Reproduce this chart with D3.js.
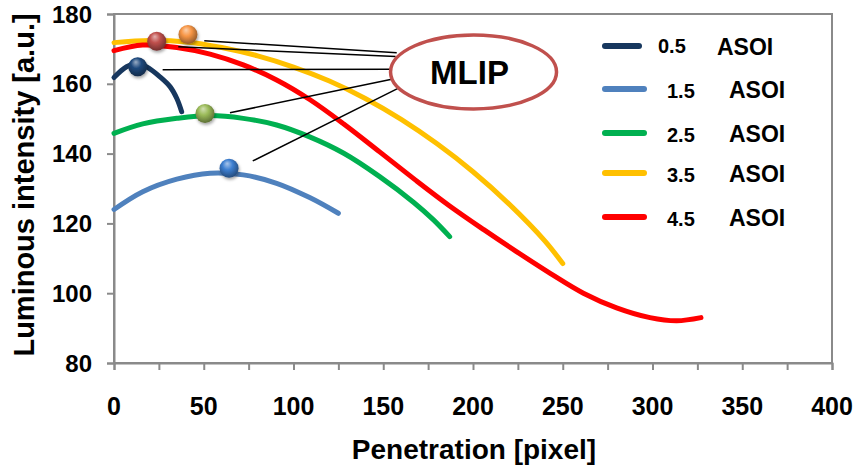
<!DOCTYPE html>
<html lang="en">
	<head>
		<meta charset="utf-8">
		<title> MLIP chart </title>
		<script type="text/javascript" src="https://cdn.jsdelivr.net/npm/d3@7/dist/d3.min.js"></script>
		<style>
			body { margin: 0; background: #fff; }
			text { font-family: "Liberation Sans", Arial, sans-serif; font-weight: bold; fill: #000; }
		</style>
	</head>
	<body>
		<script type="text/javascript">

			// series: [penetration, intensity]
			var series = ["0.5", "1.5", "2.5", "3.5", "4.5"];

			var asoi05 = [[0, 161.8], [7, 164.9], [13.4, 165.9], [18, 164.9], [25.6, 162], [31.2, 159.2], [35, 155.8], [37.7, 152]];
			var asoi15 = [[0, 124], [16, 129.1], [35, 132.7], [53.5, 134.4], [72, 133.9], [90.6, 131.5], [109, 127.4], [125, 122.9]];
			var asoi25 = [[0, 145.8], [16, 148.5], [35, 150.1], [53.5, 150.9], [72, 150.1], [90.6, 148.2], [109, 144.8], [128, 140.1], [148, 133.4], [167, 126], [178, 121], [187, 116.2]];
			var asoi35 = [[0, 171.8], [20, 172.4], [40, 172], [60, 170.4], [80, 168], [100, 164.8], [120, 160.8], [140, 155.8], [160, 149.8], [180, 142.8], [200, 134.8], [220, 125.6], [240, 115], [250, 108.5]];
			var asoi45 = [[0, 169.5], [16, 171.1], [35, 170.4], [53.5, 168.5], [72, 165.4], [90.6, 161.1], [109, 155.5], [128, 148.5], [148, 140.5], [168, 132.4], [187, 125], [206, 118.2], [224, 112], [243, 105.7], [261.5, 100], [280, 95.8], [298.6, 93], [313.5, 92.1], [327, 93]];

			var colors = ["#17375e", "#4f81bd", "#00b050", "#ffc000", "#ff0000"];
			var sphereColors = ["#1f497d", "#3d7fd1", "#9bbb59", "#f79646", "#c0504d"];

			// MLIP points (spheres)
			var mlipX = [13.2, 64.1, 50.7, 41.2, 23.8];
			var mlipY = [164.9, 135.8, 151.5, 174.1, 172.2];

			// leader line start points, near each sphere
			var leadX = [27.1, 77.3, 64.6, 50.3, 35.8];
			var leadY = [164.0, 137.9, 151.7, 172.35, 170.6];
			// leader line ends on the ellipse
			var endX = [154.7, 158.2, 154.7, 157.5, 156.9];
			var endY = [164.2, 158.7, 161.3, 168.9, 167.8];

			var xTicks = [0, 50, 100, 150, 200, 250, 300, 350, 400];
			var xMinor = [25, 75, 125, 175, 225, 275, 325, 375];
			var yTicks = [80, 100, 120, 140, 160, 180];

			var margin = {top: 14, left: 114, right: 27, bottom: 105};
			var width = 859 - margin.left - margin.right;
			var height = 468 - margin.top - margin.bottom;

			var svg = d3.select("body")
						.append("svg")
						.attr("width", 859)
						.attr("height", 468);

			var defs = svg.append("defs");

			defs.append("filter")
				.attr("id", "shadow")
				.attr("x", "-50%").attr("y", "-50%")
				.attr("width", "200%").attr("height", "200%")
				.append("feDropShadow")
				.attr("dx", 1).attr("dy", 2)
				.attr("stdDeviation", 1.5)
				.attr("flood-color", "#000")
				.attr("flood-opacity", 0.35);

			sphereColors.forEach(function(c, i) {
				var g = defs.append("radialGradient")
							.attr("id", "ball" + i)
							.attr("cx", "45%").attr("cy", "40%")
							.attr("fx", "40%").attr("fy", "25%")
							.attr("r", "60%");
				g.append("stop").attr("offset", "0%").attr("stop-color", d3.interpolateRgb(c, "#fff")(0.55));
				g.append("stop").attr("offset", "45%").attr("stop-color", c);
				g.append("stop").attr("offset", "100%").attr("stop-color", d3.interpolateRgb(c, "#000")(0.4));
			});

			var chart = svg.append("g")
						   .attr("transform", "translate(" + margin.left + "," + margin.top + ")");

			var xscale = d3.scaleLinear()
							.domain([0, 400])
							.range([0, width]);

			var yscale = d3.scaleLinear()
							.domain([80, 180])
							.range([height, 0]);

			// frame
			chart.append("rect")
				.attr("x", 0)
				.attr("y", 0)
				.attr("width", width)
				.attr("height", height)
				.attr("fill", "none")
				.attr("stroke", "#8a8a8a")
				.attr("stroke-width", 2);

			var xAxis = d3.axisBottom(xscale)
						  .tickValues(xTicks.concat(xMinor))
						  .tickSize(7)
						  .tickFormat("");

			var yAxis = d3.axisLeft(yscale)
						  .tickValues(yTicks)
						  .tickSize(7)
						  .tickFormat("");

			var gx = chart.append("g")
						  .attr("class", "xaxis")
						  .attr("transform", "translate(0," + height + ")")
						  .call(xAxis);

			var gy = chart.append("g")
						  .attr("class", "yaxis")
						  .call(yAxis);

			[gx, gy].forEach(function(g) {
				g.selectAll("path, line")
				 .attr("stroke", "#8a8a8a")
				 .attr("stroke-width", 2);
			});

			chart.selectAll(".xlabel")
				.data(xTicks)
				.enter()
				.append("text")
				.attr("class", "xlabel")
				.attr("x", function(d) { return xscale(d); })
				.attr("y", height + 52)
				.attr("text-anchor", "middle")
				.style("font-size", "25px")
				.text(function(d) { return d; });

			chart.selectAll(".ylabel")
				.data(yTicks)
				.enter()
				.append("text")
				.attr("class", "ylabel")
				.attr("x", -22)
				.attr("y", function(d) { return yscale(d); })
				.attr("dy", "0.36em")
				.attr("text-anchor", "end")
				.style("font-size", "24px")
				.text(function(d) { return d; });

			svg.append("text")
				.attr("x", 474)
				.attr("y", 459)
				.attr("text-anchor", "middle")
				.style("font-size", "28px")
				.text("Penetration [pixel]");

			svg.append("text")
				.attr("transform", "translate(34,185) rotate(-90)")
				.attr("text-anchor", "middle")
				.style("font-size", "29px")
				.text("Luminous intensity [a.u.]");

			// curves
			var line = d3.line()
						 .x(function(d) { return xscale(d[0]); })
						 .y(function(d) { return yscale(d[1]); })
						 .curve(d3.curveCatmullRom.alpha(0.5));

			var allData = [asoi05, asoi15, asoi25, asoi35, asoi45];

			chart.selectAll(".curve")
				.data(allData)
				.enter()
				.append("path")
				.attr("class", "curve")
				.attr("d", line)
				.attr("fill", "none")
				.attr("stroke", function(d, i) { return colors[i]; })
				.attr("stroke-width", 5)
				.attr("stroke-linecap", "round");

			// leader lines
			chart.selectAll(".lead")
				.data(leadX)
				.enter()
				.append("line")
				.attr("class", "lead")
				.attr("x1", function(d) { return xscale(d); })
				.attr("y1", function(d, i) { return yscale(leadY[i]); })
				.attr("x2", function(d, i) { return xscale(endX[i]); })
				.attr("y2", function(d, i) { return yscale(endY[i]); })
				.attr("stroke", "#000")
				.attr("stroke-width", 1.5);

			// spheres
			chart.selectAll(".ball")
				.data(mlipX)
				.enter()
				.append("circle")
				.attr("class", "ball")
				.attr("cx", function(d) { return xscale(d); })
				.attr("cy", function(d, i) { return yscale(mlipY[i]); })
				.attr("r", 9.5)
				.attr("fill", function(d, i) { return "url(#ball" + i + ")"; })
				.attr("filter", "url(#shadow)");

			// MLIP callout
			var cx = xscale(200.3), cy = yscale(163.4);
			chart.append("ellipse")
				.attr("cx", cx)
				.attr("cy", cy)
				.attr("rx", 83)
				.attr("ry", 37)
				.attr("fill", "#fff")
				.attr("stroke", "#c0504d")
				.attr("stroke-width", 3.5);

			chart.append("text")
				.attr("x", cx - 4)
				.attr("y", cy + 12)
				.attr("text-anchor", "middle")
				.style("font-size", "33px")
				.text("MLIP");

			// legend
			var legendY = [46, 89, 133, 173, 217];
			var numX = [658, 667, 667, 667, 667];
			var asoiX = [717, 729, 729, 729, 729];

			var legend = svg.selectAll(".legend")
							.data(series)
							.enter()
							.append("g")
							.attr("class", "legend")
							.attr("transform", function(d, i) { return "translate(0," + legendY[i] + ")"; });

			legend.append("line")
				.attr("x1", 605)
				.attr("x2", function(d, i) { return i === 0 ? 639 : 644; })
				.attr("y1", 0)
				.attr("y2", 0)
				.attr("stroke", function(d, i) { return colors[i]; })
				.attr("stroke-width", 6)
				.attr("stroke-linecap", "round");

			legend.append("text")
				.attr("x", function(d, i) { return numX[i]; })
				.attr("y", function(d, i) { return i === 0 ? 7 : 9; })
				.style("font-size", "20px")
				.text(function(d) { return d; });

			legend.append("text")
				.attr("x", function(d, i) { return asoiX[i]; })
				.attr("y", 9)
				.style("font-size", "23px")
				.text("ASOI");

		</script>
	</body>
</html>
